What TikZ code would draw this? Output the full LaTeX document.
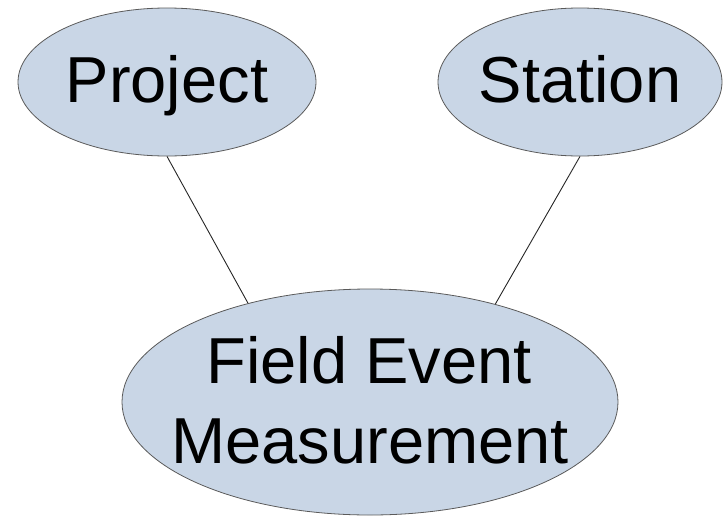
\documentclass[tikz,border=0pt]{standalone}
\usepackage{fontspec}
\setmainfont{Liberation Sans}
\usetikzlibrary{shapes.geometric}
\definecolor{ellfill}{HTML}{C9D6E6}
\definecolor{ellline}{HTML}{5A5A5A}
\begin{document}
\begin{tikzpicture}[x=1pt,y=-1pt,
  ent/.style={ellipse, draw=ellline, line width=0.8pt, fill=ellfill, inner sep=0pt},
  lbl/.style={anchor=base, inner sep=0pt, font=\fontsize{65}{80}\selectfont},
  link/.style={draw=black!85, line width=0.9pt}]
\useasboundingbox (0,0) rectangle (723,517);
\node[ent, minimum width=298pt, minimum height=148pt] (P) at (167,82) {};
\node[ent, minimum width=284pt, minimum height=148pt] (S) at (580,82) {};
\node[ent, minimum width=496pt, minimum height=226pt] (F) at (370,402) {};
\node[lbl] (PT) at (167,102) {Project};
\node[lbl] (ST) at (580,102) {Station};
\node[lbl] (FT1) at (369,383) {Field Event};
\node[lbl] (FT2) at (370,463) {Measurement};
\draw[link] (P.south) -- (F.141);
\draw[link] (S.south) -- (F.38.6);
\end{tikzpicture}
\end{document}
